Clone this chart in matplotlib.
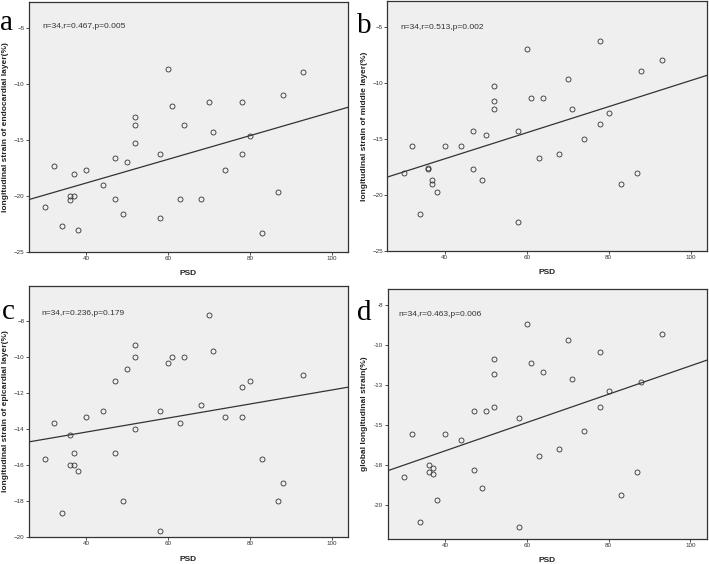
import numpy as np
import matplotlib as mpl
mpl.use('Agg')
import matplotlib.pyplot as plt

# PSD values, shared by all four panels
psd = [30, 32, 34, 36, 36, 37, 37, 38, 40, 44, 47, 47, 50, 49, 52, 52, 52,
       58, 58, 60, 61, 63, 64, 68, 70, 71, 74, 78, 78, 80, 83, 87, 88, 93]

# strain values in the same order as psd
endo = [-21.0, -17.3, -22.7, -20.0, -20.35, -20.0, -18.0, -23.0, -17.65, -19.0,
        -16.65, -20.3, -17.0, -21.65, -12.97, -13.65, -15.3, -16.3, -22.0, -8.64,
        -12.0, -20.3, -13.65, -20.3, -11.64, -14.3, -17.65, -11.64, -16.3, -14.63,
        -23.3, -19.67, -11.0, -8.97]
middle = [-18.0, -15.64, -21.7, -17.67, -17.6, -18.68, -19.0, -19.7, -15.64, -15.64,
          -14.3, -17.67, -14.63, -18.68, -10.28, -11.62, -12.3, -14.3, -22.38, -6.94,
          -11.29, -16.65, -11.29, -16.33, -9.62, -12.3, -14.98, -6.25, -13.64, -12.63,
          -19.0, -18.0, -8.93, -7.92]
epi = [-15.67, -13.67, -18.67, -14.33, -16.0, -16.0, -15.33, -16.33, -13.33, -13.0,
       -11.33, -15.33, -10.67, -18.0, -9.33, -10.0, -14.0, -13.0, -19.67, -10.33,
       -10.0, -13.67, -10.0, -12.67, -7.67, -9.67, -13.33, -11.67, -13.33, -11.33,
       -15.67, -18.0, -17.0, -11.0]
gls = [-18.27, -15.58, -21.04, -17.48, -17.94, -17.69, -18.04, -19.71, -15.58, -15.92,
       -14.13, -17.81, -14.13, -18.92, -10.9, -11.79, -13.9, -14.56, -21.38, -8.67,
       -11.1, -16.92, -11.67, -16.48, -9.67, -12.13, -15.35, -10.44, -13.9, -12.9,
       -19.38, -17.92, -12.33, -9.33]

letters = ['a', 'b', 'c', 'd']
ylabels = ['longitudinal strain of endocardial layer(%)',
           'longitudinal strain of middle layer(%)',
           'longitudinal strain of epicardial layer(%)',
           'global longitudinal strain(%)']
stats = ['n=34,r=0.467,p=0.005', 'n=34,r=0.513,p=0.002',
         'n=34,r=0.236,p=0.179', 'n=34,r=0.463,p=0.006']
yticks_ab = [-25, -20, -15, -10, -5]
yticks_c = [-20, -18, -16, -14, -12, -10, -8]
yticks_d = [-20, -17.5, -15, -12.5, -10, -7.5]
yticklabels_d = ['-20', '-18', '-15', '-13', '-10', '-8']
xticks = [40, 60, 80, 100]

mpl.rcParams['font.family'] = 'Liberation Sans'
mpl.rcParams['xtick.direction'] = 'out'
mpl.rcParams['ytick.direction'] = 'out'

fig = plt.figure(figsize=(7.09, 5.64), dpi=100)

rects = [(0.0409, 0.5532, 0.4499, 0.4433),
         (0.5463, 0.5550, 0.4509, 0.4430),
         (0.0409, 0.0479, 0.4499, 0.4450),
         (0.5468, 0.0449, 0.4500, 0.4427)]
ylims = [(-25, -2.7), (-25, -2.65), (-20, -6.06), (-22.1, -6.5)]
ydata = [endo, middle, epi, gls]
stat_pos = [(0.041, 0.90), (0.040, 0.896), (0.038, 0.892), (0.035, 0.897)]
letter_pos = [(0.0, 1 - 30/564.), (357/709., 1 - 33/564.),
              (2/709., 1 - 319/564.), (357/709., 1 - 320/564.)]

fc = '#333333'
for i in range(4):
    ax = fig.add_axes(rects[i])
    ax.set_facecolor('#efefef')
    x = np.array(psd, dtype=float)
    y = np.array(ydata[i], dtype=float)
    ax.plot(x, y, 'o', ms=3.6, mfc='none', mec=fc, mew=0.6, zorder=3)
    # least squares fit line
    k, b = np.polyfit(x, y, 1)
    xx = np.array([26, 104])
    ax.plot(xx, k*xx + b, color=fc, lw=0.9, zorder=2)
    ax.set_xlim(26, 104)
    ax.set_ylim(ylims[i])
    ax.set_xticks(xticks)
    if i < 2:
        ax.set_yticks(yticks_ab)
    elif i == 2:
        ax.set_yticks(yticks_c)
    else:
        ax.set_yticks(yticks_d)
        ax.set_yticklabels(yticklabels_d)
    for s in ax.spines.values():
        s.set_color(fc)
        s.set_linewidth(0.9)
    ax.tick_params(axis='both', length=2.2, width=0.6, pad=1, labelsize=4.5,
                   color=fc, labelcolor='#333333')
    ax.set_xlabel('PSD', fontsize=6, fontweight='bold', color='#222222')
    ax.xaxis.set_label_coords(0.5, -0.074)
    ax.set_ylabel(ylabels[i], fontsize=6, fontweight='bold', color='#222222')
    ax.yaxis.set_label_coords(-0.062, 0.5)
    ax.text(stat_pos[i][0], stat_pos[i][1], stats[i], transform=ax.transAxes,
            fontsize=6, color='#333333', va='center', ha='left')
    fig.text(letter_pos[i][0], letter_pos[i][1], letters[i], fontsize=21,
             family='Liberation Serif', va='baseline', ha='left')

fig.savefig('out.png', dpi=100)
